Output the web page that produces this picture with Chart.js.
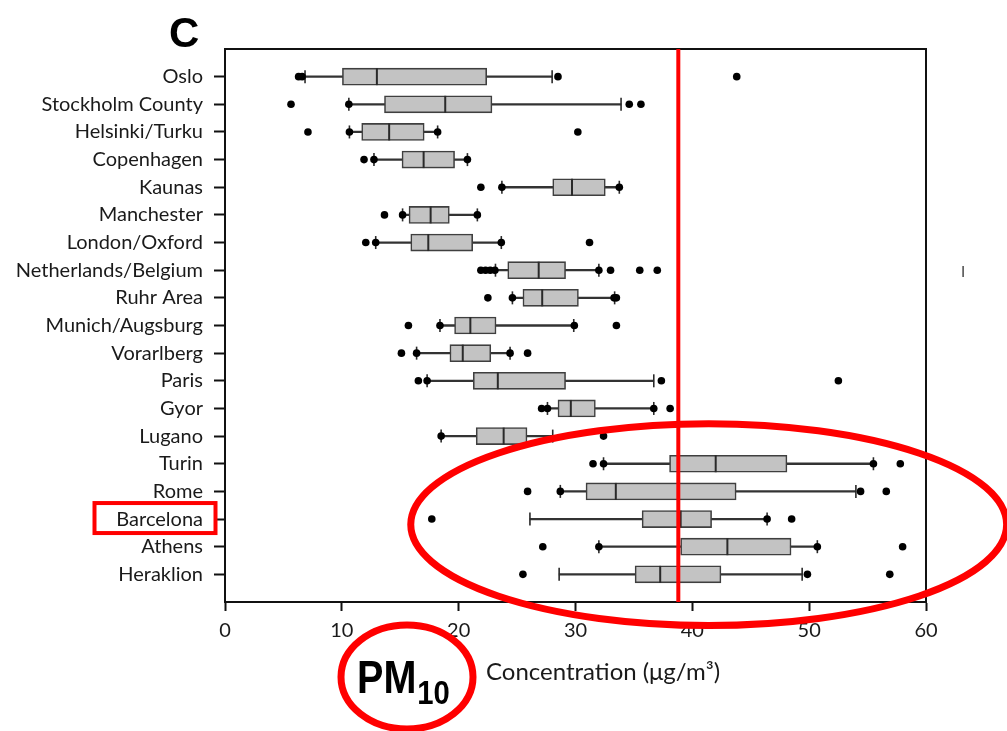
<!DOCTYPE html>
<html>
<head>
<meta charset="utf-8">
<script src="https://cdn.jsdelivr.net/npm/chart.js@4.4.1/dist/chart.umd.min.js"></script>
<style>
  html, body { margin: 0; padding: 0; background: #fff; }
  #wrap { width: 1007px; height: 731px; position: relative; }
</style>
</head>
<body>
<div id="wrap"><canvas id="boxChart"></canvas></div>
<script>
// PM10 concentration per study area (ug/m3)
const cities = [
  "Oslo", "Stockholm County", "Helsinki/Turku", "Copenhagen", "Kaunas",
  "Manchester", "London/Oxford", "Netherlands/Belgium", "Ruhr Area",
  "Munich/Augsburg", "Vorarlberg", "Paris", "Gyor", "Lugano", "Turin",
  "Rome", "Barcelona", "Athens", "Heraklion"
];
const whiskerLow = [6.85, 10.6, 10.65, 12.75, 23.7, 15.2, 12.9, 23.15, 24.6, 18.4, 16.4, 17.3, 27.6, 18.5, 32.4, 28.7, 26.1, 32.0, 28.6];
const q1 = [10.05, 13.65, 11.7, 15.15, 28.05, 15.75, 15.9, 24.2, 25.5, 19.65, 19.25, 21.25, 28.5, 21.5, 38.05, 30.9, 35.7, 39.0, 35.1];
const median = [13.0, 18.85, 14.05, 17.0, 29.7, 17.6, 17.4, 26.85, 27.15, 21.0, 20.35, 23.35, 29.6, 23.85, 42.0, 33.45, 39.0, 43.0, 37.25];
const q3 = [22.4, 22.85, 17.05, 19.65, 32.55, 19.2, 21.2, 29.15, 30.25, 23.2, 22.75, 29.15, 31.7, 25.85, 48.1, 43.75, 41.65, 48.45, 42.45];
const whiskerHigh = [28.0, 33.9, 18.2, 20.75, 33.75, 21.6, 23.65, 32.0, 33.35, 29.85, 24.4, 36.7, 36.7, 28.05, 55.5, 54.0, 46.4, 50.7, 49.4];
const outliers = [
  [6.3, 6.6, 28.5, 43.8],
  [5.65, 10.6, 34.6, 35.6],
  [7.1, 10.65, 18.2, 30.2],
  [11.9, 12.75, 20.75],
  [21.9, 23.7, 33.75],
  [13.65, 15.2, 21.6],
  [12.05, 12.9, 23.65, 31.2],
  [21.9, 22.3, 22.7, 23.1, 32.0, 33.0, 35.5, 37.0],
  [22.5, 24.6, 33.3, 33.5],
  [15.7, 18.4, 29.9, 33.5],
  [15.1, 16.4, 24.4, 25.9],
  [16.55, 17.3, 37.35, 52.5],
  [27.1, 27.6, 36.7, 38.1],
  [18.5, 32.4],
  [31.5, 32.4, 55.5, 57.8],
  [25.9, 28.7, 54.4, 56.6],
  [17.7, 46.4, 48.5],
  [27.2, 32.0, 50.7, 58.0],
  [25.5, 49.85, 56.9]
];
const guideline = 38.8;
const xMin = 0, xMax = 60, xStep = 10;

const tickFont = { family: "Lato", size: 20 };

// red highlight marks laid over the chart
const marks = {
  id: "marks",
  beforeDatasetsDraw(chart) {
    const { ctx, chartArea: a } = chart;
    ctx.save();
    ctx.strokeStyle = "#111";
    ctx.lineWidth = 2;
    ctx.beginPath();
    ctx.moveTo(a.left, a.top);
    ctx.lineTo(a.right, a.top);
    ctx.lineTo(a.right, a.bottom);
    ctx.stroke();
    ctx.restore();
  },
  afterDraw(chart) {
    const { ctx, chartArea: a, scales } = chart;
    const x = scales.x, y = scales.y;
    ctx.save();

    // guideline
    const gx = x.getPixelForValue(guideline);
    ctx.strokeStyle = "#ff0000";
    ctx.lineWidth = 4;
    ctx.beginPath();
    ctx.moveTo(gx, a.top);
    ctx.lineTo(gx, a.bottom);
    ctx.stroke();

    // big ellipse round the southern cities
    const cx = x.getPixelForValue(41.4);
    const rx = x.getPixelForValue(66.9) - cx;
    const cy = y.getPixelForValue(16.2);
    const ry = y.getPixelForValue(19.85) - cy;
    ctx.lineWidth = 7;
    ctx.beginPath();
    ctx.ellipse(cx, cy, rx, ry, 0, 0, Math.PI * 2);
    ctx.stroke();

    // box round Barcelona label
    const by = y.getPixelForValue(cities.indexOf("Barcelona"));
    ctx.lineWidth = 4;
    ctx.strokeRect(94.5, by - 16, 121, 30);

    // PM10 circle
    ctx.lineWidth = 7;
    ctx.beginPath();
    ctx.ellipse(407, 677, 66, 52, 0, 0, Math.PI * 2);
    ctx.stroke();

    ctx.fillStyle = "#000";
    ctx.textBaseline = "alphabetic";
    ctx.textAlign = "left";
    ctx.save();
    ctx.translate(357, 693);
    ctx.scale(0.86, 1);
    ctx.font = "bold 46px 'Liberation Sans'";
    ctx.fillText("PM", 0, 0);
    const pw = ctx.measureText("PM").width;
    ctx.font = "bold 34px 'Liberation Sans'";
    ctx.fillText("10", pw + 1, 11);
    ctx.restore();

    // axis title
    ctx.fillStyle = "#1a1a1a";
    ctx.font = "24px Lato";
    ctx.fillText("Concentration (\u03bcg/m\u00b3)", 486, 680);

    // panel letter
    ctx.fillStyle = "#000";
    ctx.font = "bold 42px 'Liberation Sans'";
    ctx.fillText("C", 169, 47);

    // clipped fragment at the right edge
    ctx.fillStyle = "#444";
    ctx.font = "15px Lato";
    ctx.fillText("I", 961, 277);
    ctx.restore();
  }
};

const boxData = cities.map((c, i) => ({ x: [q1[i], q3[i]], y: i }));
const whiskerData = cities.map((c, i) => ({ x: [whiskerLow[i], whiskerHigh[i]], y: i }));
const capData = cities.flatMap((c, i) => [{ x: whiskerLow[i], y: i }, { x: whiskerHigh[i], y: i }]);
const medianData = cities.map((c, i) => ({ x: median[i], y: i }));
const outlierData = cities.flatMap((c, i) => outliers[i].map((v) => ({ x: v, y: i })));

new Chart(document.getElementById("boxChart"), {
  type: "bar",
  data: {
    datasets: [
      {
        type: "scatter",
        data: outlierData,
        pointStyle: "circle",
        pointRadius: 3.8,
        backgroundColor: "#000",
        borderWidth: 0,
        order: 0,
      },
      {
        type: "scatter",
        data: medianData,
        pointStyle: "line",
        rotation: 90,
        pointRadius: 8.5,
        borderColor: "#2a2a2a",
        borderWidth: 2,
        order: 1,
      },
      {
        type: "scatter",
        data: capData,
        pointStyle: "line",
        rotation: 90,
        pointRadius: 6.5,
        borderColor: "#2a2a2a",
        borderWidth: 1.6,
        order: 1,
      },
      {
        data: boxData,
        backgroundColor: "#c3c3c3",
        borderColor: "#3f3f3f",
        borderWidth: 1.6,
        borderSkipped: false,
        barThickness: 17,
        grouped: false,
        order: 2,
      },
      {
        data: whiskerData,
        backgroundColor: "#333",
        borderWidth: 0,
        barThickness: 1.6,
        grouped: false,
        order: 3,
      },
    ],
  },
  options: {
    indexAxis: "y",
    responsive: true,
    maintainAspectRatio: false,
    animation: false,
    layout: { padding: { top: 49, right: 81, left: 0, bottom: 0 } },
    plugins: { legend: { display: false }, tooltip: { enabled: false } },
    scales: {
      x: {
        type: "linear",
        min: xMin,
        max: xMax,
        ticks: { stepSize: xStep, color: "#1a1a1a", font: tickFont, padding: 8 },
        grid: { drawOnChartArea: false, offset: false, tickLength: 9, color: "#111", tickWidth: 2 },
        border: { color: "#111", width: 2 },
        afterFit(scale) { scale.height = 129; },
      },
      y: {
        type: "linear",
        reverse: true,
        offset: false,
        min: -1,
        max: 19,
        afterBuildTicks(scale) {
          scale.ticks = cities.map((c, i) => ({ value: i }));
        },
        ticks: {
          autoSkip: false,
          color: "#1a1a1a",
          font: tickFont,
          padding: 11,
          callback: (v) => cities[v],
        },
        grid: { drawOnChartArea: false, offset: false, tickLength: 11, color: "#111", tickWidth: 2 },
        border: { color: "#111", width: 2 },
        afterFit(scale) { scale.width = 225; },
      },
    },
  },
  plugins: [marks],
});
</script>
</body>
</html>
